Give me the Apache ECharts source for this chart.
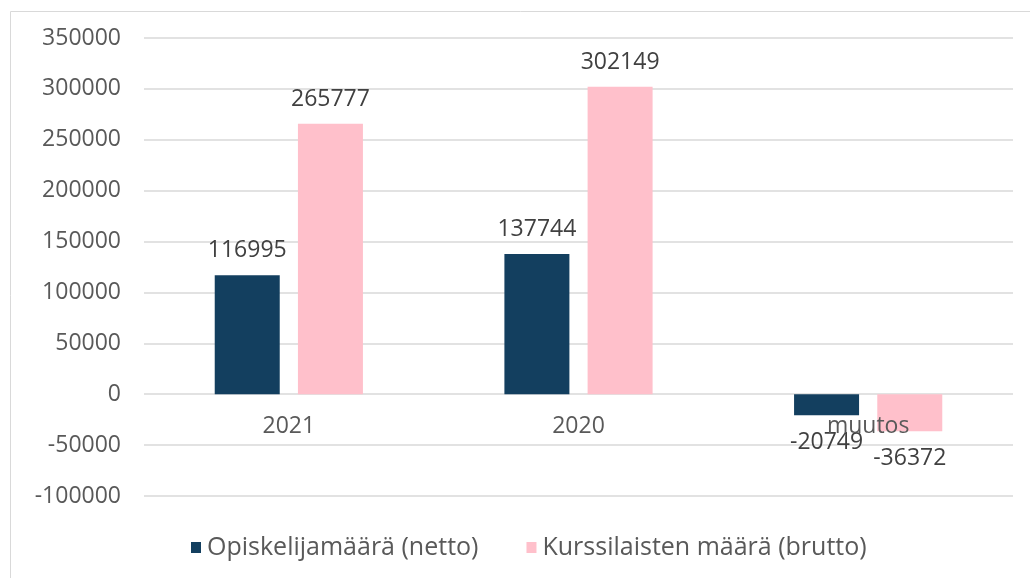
<!DOCTYPE html>
<html>
<head>
<meta charset="utf-8">
<script src="https://cdn.jsdelivr.net/npm/echarts@6/dist/echarts.min.js"></script>
<style>
html,body{margin:0;padding:0;background:#fff;}
#chart{width:1030px;height:578px;}
</style>
</head>
<body>
<div id="chart"></div>
<script>
const categories = ['2021', '2020', 'muutos'];
const netto = [116995, 137744, -20749];
const brutto = [265777, 302149, -36372];
const seriesNames = ['Opiskelijamäärä (netto)', 'Kurssilaisten määrä (brutto)'];
const yMin = -100000, yMax = 350000, yStep = 50000;

const FONT = '"Open Sans", "Noto Sans", sans-serif';
const GRID = { left: 144, right: 17, top: 38, bottom: 82 };
const plotHeight = 578 - GRID.top - GRID.bottom;
// category axis sits on the zero line
const zeroOffset = -plotHeight * (0 - yMin) / (yMax - yMin);

function withLabels(values) {
  return values.map(v => ({
    value: v,
    label: v < 0 ? { position: 'bottom', distance: 16 } : { position: 'top', distance: 13 }
  }));
}

const chart = echarts.init(document.getElementById('chart'));
chart.setOption({
  animation: false,
  textStyle: { fontFamily: FONT },
  graphic: [{
    type: 'rect',
    left: 8, top: 9,
    shape: { width: 1200, height: 800 },
    style: { fill: 'none', stroke: '#d9d9d9', lineWidth: 1 },
    silent: true
  }],
  grid: Object.assign({ containLabel: false }, GRID),
  legend: {
    data: seriesNames,
    left: 191, top: 535,
    padding: 0,
    itemWidth: 10, itemHeight: 11,
    itemGap: 48,
    icon: 'rect',
    textStyle: { fontFamily: FONT, fontSize: 25, color: '#595959', padding: [0, 0, 0, 1] }
  },
  xAxis: {
    type: 'category',
    data: categories,
    offset: zeroOffset,
    z: 10,
    axisLine: { show: false, onZero: false },
    axisTick: { show: false },
    axisLabel: { fontFamily: FONT, fontSize: 23, color: '#595959', margin: 21 },
    splitLine: { show: false }
  },
  yAxis: {
    type: 'value',
    min: yMin, max: yMax, interval: yStep,
    axisLine: { show: false },
    axisTick: { show: false },
    axisLabel: { fontFamily: FONT, fontSize: 23, color: '#595959', margin: 23, formatter: v => String(v) },
    splitLine: { lineStyle: { color: '#d9d9d9', width: 1.5 } }
  },
  series: [
    {
      name: seriesNames[0], type: 'bar',
      data: withLabels(netto),
      barWidth: 65, barGap: '28%',
      itemStyle: { color: '#133F5F' },
      label: { show: true, fontFamily: FONT, fontSize: 23, color: '#404040' }
    },
    {
      name: seriesNames[1], type: 'bar',
      data: withLabels(brutto),
      barWidth: 65,
      itemStyle: { color: '#FFC0CB' },
      label: { show: true, fontFamily: FONT, fontSize: 23, color: '#404040' }
    }
  ]
});
</script>
</body>
</html>
